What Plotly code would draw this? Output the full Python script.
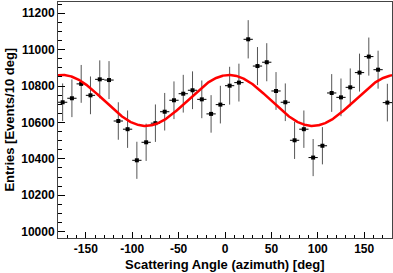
import numpy as np
import plotly.graph_objects as go

angle = [-175, -165, -155, -145, -135, -125, -115, -105, -95, -85, -75, -65,
         -55, -45, -35, -25, -15, -5, 5, 15, 25, 35, 45, 55, 65, 75, 85, 95,
         105, 115, 125, 135, 145, 155, 165, 175]
entries = [10711, 10733, 10812, 10749, 10837, 10833, 10608, 10563, 10392, 10491,
           10596, 10659, 10722, 10758, 10777, 10727, 10647, 10698, 10802, 10819,
           11057, 10910, 10931, 10773, 10711, 10502, 10563, 10407, 10472, 10762,
           10738, 10793, 10874, 10962, 10890, 10709]
errors = [float(np.sqrt(v)) for v in entries]

# fit parameters: p0 + p1*cos(2*(phi - p2))
fit_p0 = 10721.0
fit_p1 = 140.0
fit_p2 = 4.5

x_tick_vals = [-150, -100, -50, 0, 50, 100, 150]
x_tick_text = ["-150", "-100", "-50", "0", "50", "100", "150"]
y_tick_vals = [10000, 10200, 10400, 10600, 10800, 11000, 11200]
y_tick_text = ["10000", "10200", "10400", "10600", "10800", "11000", "11200"]

phi = np.linspace(-180, 180, 721)
fit_y = fit_p0 + fit_p1 * np.cos(np.radians(2 * (phi - fit_p2)))

fig = go.Figure()
fig.add_trace(go.Scatter(
    x=angle, y=entries, mode="markers",
    marker=dict(symbol="square", size=4, color="black"),
    error_y=dict(type="data", array=errors, visible=True, thickness=1, width=0, color="#555"),
    error_x=dict(type="constant", value=5, visible=True, thickness=1, width=0, color="black"),
    showlegend=False, hoverinfo="skip",
))
fig.add_trace(go.Scatter(
    x=phi, y=fit_y, mode="lines", line=dict(color="#ff0000", width=2.5),
    showlegend=False, hoverinfo="skip",
))

tickfont = dict(family="Liberation Sans", size=12, color="black", weight="bold")
fig.update_layout(
    width=393, height=273,
    margin=dict(l=58, r=1, t=2, b=35, autoexpand=False),
    paper_bgcolor="white", plot_bgcolor="white",
    font=dict(family="Liberation Sans", size=12, color="black"),
    xaxis=dict(
        range=[-180, 180], tickvals=x_tick_vals, ticktext=x_tick_text,
        ticks="inside", ticklen=6,
        tickcolor="black", showline=True, mirror=True, linecolor="#444", linewidth=1,
        showgrid=False, zeroline=False, tickfont=tickfont,
        minor=dict(dtick=10, ticks="inside", ticklen=3, tickcolor="black", showgrid=False),
    ),
    yaxis=dict(
        range=[9965, 11262], tickvals=y_tick_vals, ticktext=y_tick_text,
        ticks="inside", ticklen=7,
        tickcolor="black", showline=True, mirror=True, linecolor="#444", linewidth=1,
        showgrid=False, zeroline=False, tickfont=tickfont,
        minor=dict(dtick=50, ticks="inside", ticklen=4, tickcolor="black", showgrid=False),
    ),
    annotations=[
        dict(text="<b>Scattering Angle (azimuth) [deg]</b>", xref="paper", yref="paper",
             x=0.5, y=-0.112, xanchor="center", yanchor="middle", showarrow=False,
             font=dict(family="Liberation Sans", size=13, color="black")),
        dict(text="<b>Entries [Events/10 deg]</b>", xref="paper", yref="paper",
             x=-0.148, y=0.5, xanchor="center", yanchor="middle", showarrow=False,
             textangle=-90,
             font=dict(family="Liberation Sans", size=13, color="black")),
    ],
)
fig.write_html("out.html", config={"displayModeBar": False, "staticPlot": True},
               post_script="document.body.style.margin='0';")
